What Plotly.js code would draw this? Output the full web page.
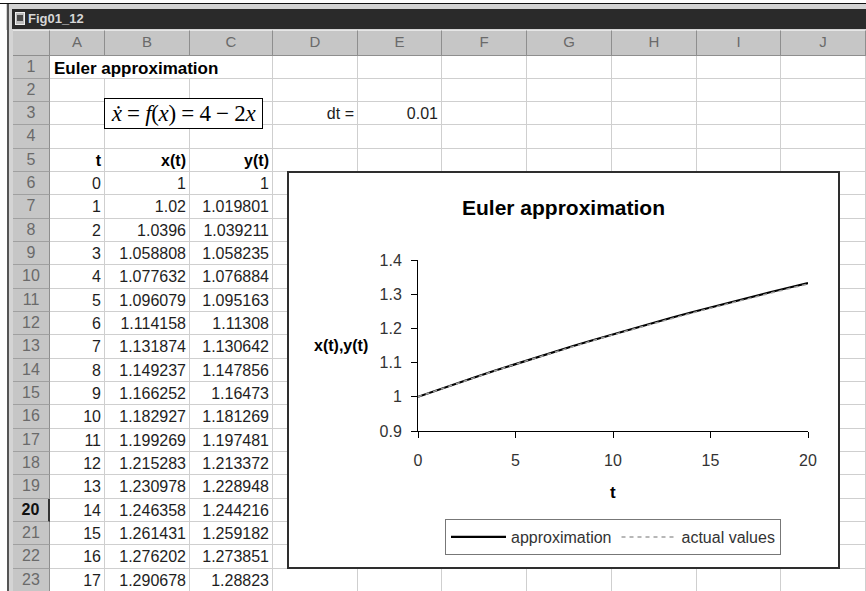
<!DOCTYPE html>
<html>
<head>
<meta charset="utf-8">
<script src="https://cdn.plot.ly/plotly-3.0.1.min.js"></script>
<style>
  html, body { margin:0; padding:0; background:#fff; }
  body { width:866px; height:591px; overflow:hidden; position:relative; font-family:"Liberation Sans", Arial, sans-serif; }
  .abs { position:absolute; box-sizing:border-box; }
  .cell { position:absolute; box-sizing:border-box; border-right:1px solid #cfcfcf; border-bottom:1px solid #cfcfcf;
          font-size:16px; color:#1e1e1e; white-space:nowrap; overflow:visible; text-align:right; padding:3px 4px 0 0; }
  .colhdr { position:absolute; box-sizing:border-box; background:#c6c6c6; border-right:1px solid #8e8e8e; border-bottom:1px solid #8e8e8e;
          border-top:1px solid #e6e6e6; font-size:15px; color:#6a6a6a; text-align:center; line-height:22px; }
  .rowhdr { position:absolute; box-sizing:border-box; background:#c6c6c6; border-right:1px solid #8e8e8e; border-bottom:1px solid #a0a0a0;
          font-size:16px; color:#6a6a6a; text-align:center; padding-top:2px; }
</style>
</head>
<body>
<div id="sheet"></div>
<div class="abs" id="chartbox" style="left:287px; top:171px; width:553px; height:398px; border:2px solid #2e2e2e; background:#fff;">
  <div id="chart" style="width:549px; height:394px;"></div>
</div>
<script>
// ---------- data ----------
const sheetTitle = "Euler approximation";
const windowTitle = "Fig01_12";
const columnLetters = ["A","B","C","D","E","F","G","H","I","J"];
const headerLabels = ["t", "x(t)", "y(t)"];
const dtLabel = "dt =";
const dtValue = 0.01;
const tValues = [0,1,2,3,4,5,6,7,8,9,10,11,12,13,14,15,16,17,18,19,20];
const xApprox = [1,1.02,1.0396,1.058808,1.077632,1.096079,1.114158,1.131874,1.149237,1.166252,1.182927,
                 1.199269,1.215283,1.230978,1.246358,1.261431,1.276202,1.290678,1.304864,1.318767,1.332392];
const yActual = [1,1.019801,1.039211,1.058235,1.076884,1.095163,1.11308,1.130642,1.147856,1.16473,1.181269,
                 1.197481,1.213372,1.228948,1.244216,1.259182,1.273851,1.28823,1.302324,1.316139,1.32968];
const seriesNames = ["approximation", "actual values"];
const chartTitle = "Euler approximation";
const xAxisTitle = "t";
const yAxisTitle = "x(t),y(t)";
const xTickVals = [0,5,10,15,20];
const yTickVals = [0.9,1.0,1.1,1.2,1.3,1.4];
const yTickLabels = ["0.9","1","1.1","1.2","1.3","1.4"];

// ---------- spreadsheet (HTML) ----------
const sheet = document.getElementById("sheet");
const colEdges = [50,105,190,273,358,442,527,612,697,781,866];
const rowTop0 = 55.5, rowH = 23.33, nRows = 23;
function el(cls, style, html) {
  const d = document.createElement("div");
  d.className = cls; d.setAttribute("style", style); if (html !== undefined) d.innerHTML = html;
  sheet.appendChild(d); return d;
}
// window frame
el("abs", "left:0;top:0;width:866px;height:591px;background:#fff;");
el("abs", "left:0;top:3px;width:866px;height:1px;background:#111;");
el("abs", "left:6px;top:4px;width:860px;height:26px;background:#d4d4d4;");
el("abs", "left:7px;top:4px;width:2px;height:587px;background:#555;");
el("abs", "left:9px;top:4px;width:4px;height:587px;background:#d4d4d4;");
el("abs", "left:12px;top:9px;width:854px;height:20px;background:#2a2a2a;");
el("abs", "left:15px;top:12px;width:10px;height:13px;background:#bdbdbd;border:1px solid #eee;");
el("abs", "left:17px;top:15px;width:6px;height:6px;background:#4a4a4a;");
el("abs", "left:28px;top:9px;height:20px;line-height:20px;font-size:13px;font-weight:bold;color:#d6d6d6;", windowTitle);
// column header row
el("abs", "left:13px;top:30px;width:853px;height:25.5px;background:#c6c6c6;");
el("colhdr", "left:13px;top:30px;width:37px;height:25.5px;", "");
for (let c = 0; c < columnLetters.length; c++) {
  el("colhdr", `left:${colEdges[c]}px;top:30px;width:${colEdges[c+1]-colEdges[c]}px;height:25.5px;`, columnLetters[c]);
}
// row headers and grid cells
for (let r = 1; r <= nRows; r++) {
  const top = rowTop0 + (r-1)*rowH;
  const bold = r === 20 ? "font-weight:bold;color:#111;border-right:2px solid #333;" : "";
  el("rowhdr", `left:13px;top:${top}px;width:37px;height:${rowH}px;${bold}`, String(r));
  for (let c = 0; c < columnLetters.length; c++) {
    let st = `left:${colEdges[c]}px;top:${top}px;width:${colEdges[c+1]-colEdges[c]}px;height:${rowH}px;`;
    if (r === 1 && c < 2) st += "border-right:none;";
    el("cell", st, "");
  }
}
function putText(r, c, text, extra) {
  const top = rowTop0 + (r-1)*rowH;
  el("cell", `left:${colEdges[c]}px;top:${top}px;width:${colEdges[c+1]-colEdges[c]}px;height:${rowH}px;border:none;${extra||""}`, text);
}
putText(1, 0, sheetTitle, "text-align:left;padding-left:4px;font-weight:bold;font-size:17px;color:#000;");
putText(3, 3, dtLabel);
putText(3, 4, String(dtValue));
for (let i = 0; i < headerLabels.length; i++) putText(5, i, headerLabels[i], "font-weight:bold;color:#000;");
for (let i = 0; i <= 17; i++) {
  putText(6+i, 0, String(tValues[i]));
  putText(6+i, 1, String(xApprox[i]));
  putText(6+i, 2, String(yActual[i]));
}
// equation box
el("abs", "left:104px;top:98px;width:159px;height:31px;border:1px solid #000;background:#fff;" +
   "font-family:'Liberation Serif','DejaVu Serif','Times New Roman',serif;font-size:23px;line-height:29px;text-align:center;color:#000;white-space:nowrap;letter-spacing:-0.3px;",
   "<i>&#x1E8B;</i> = <i>f</i>(<i>x</i>) = 4 &minus; 2<i>x</i>");

// ---------- chart (Plotly) ----------
const font = "Liberation Sans, Arial, sans-serif";
const traces = [
  { x: tValues, y: xApprox, name: seriesNames[0], type: "scatter", mode: "lines",
    line: { color: "#000000", width: 2.2 } },
  { x: tValues, y: yActual, name: seriesNames[1], type: "scatter", mode: "lines",
    line: { color: "#a0a0a0", width: 1.5, dash: "4px,4px" } }
];
const layout = {
  width: 549, height: 394,
  margin: { l: 129, r: 30, t: 87, b: 127 },
  paper_bgcolor: "#fff", plot_bgcolor: "#fff",
  font: { family: font, size: 16, color: "#333" },
  title: { text: "<b>" + chartTitle + "</b>", x: 0.5, xref: "container", xanchor: "center",
           y: 1 - 35/394, yref: "container", yanchor: "middle",
           font: { family: font, size: 21, color: "#000" } },
  xaxis: { range: [0, 20], tickvals: xTickVals, showline: true, linecolor: "#000", linewidth: 1,
           ticks: "outside", ticklen: 6, tickcolor: "#000", showgrid: false, zeroline: false,
           tickfont: { family: font, size: 16, color: "#333" }, ticklabelstandoff: 9, fixedrange: true },
  yaxis: { range: [0.9, 1.4], tickvals: yTickVals, ticktext: yTickLabels, showline: true, linecolor: "#000", linewidth: 1,
           ticks: "outside", ticklen: 6, tickcolor: "#000", showgrid: false, zeroline: false,
           tickfont: { family: font, size: 16, color: "#333" }, ticklabelstandoff: 6, fixedrange: true },
  showlegend: true,
  legend: { orientation: "h", x: 0.5, xanchor: "center", y: -0.515, yanchor: "top",
            bordercolor: "#777", borderwidth: 1, bgcolor: "#fff",
            font: { family: font, size: 16, color: "#333" }, itemwidth: 55, tracegroupgap: 0 },
  annotations: [
    { text: "<b>" + yAxisTitle + "</b>", xref: "paper", yref: "paper", x: -0.198, y: 0.5,
      xanchor: "center", yanchor: "middle", showarrow: false, font: { family: font, size: 16, color: "#000" } },
    { text: "<b>" + xAxisTitle + "</b>", xref: "paper", yref: "paper", x: 0.5, y: -0.36,
      xanchor: "center", yanchor: "middle", showarrow: false, font: { family: font, size: 17, color: "#000" } }
  ]
};
Plotly.newPlot("chart", traces, layout, { displayModeBar: false, staticPlot: true });
</script>
</body>
</html>
